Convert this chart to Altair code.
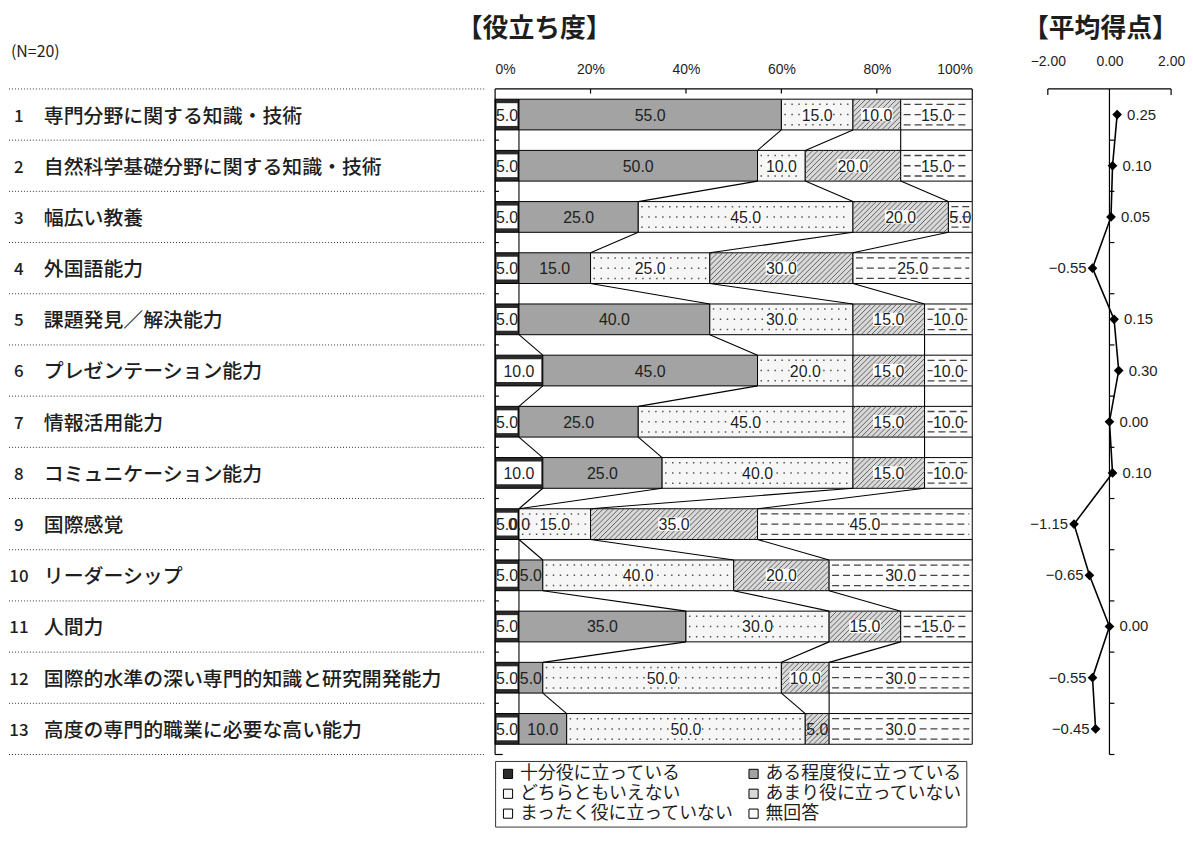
import altair as alt
import pandas as pd

# ---------------- data ----------------
items = [
    "専門分野に関する知識・技術",
    "自然科学基礎分野に関する知識・技術",
    "幅広い教養",
    "外国語能力",
    "課題発見／解決能力",
    "プレゼンテーション能力",
    "情報活用能力",
    "コミュニケーション能力",
    "国際感覚",
    "リーダーシップ",
    "人間力",
    "国際的水準の深い専門的知識と研究開発能力",
    "高度の専門的職業に必要な高い能力",
]
item_no = ["1", "2", "3", "4", "5", "6", "7", "8", "9", "10", "11", "12", "13"]
cats = ["十分役に立っている", "ある程度役に立っている", "どちらともいえない",
        "あまり役に立っていない", "まったく役に立っていない", "無回答"]
s_very = [5, 5, 5, 5, 5, 10, 5, 10, 5, 5, 5, 5, 5]
s_some = [55, 50, 25, 15, 40, 45, 25, 25, 0, 5, 35, 5, 10]
s_neutral = [15, 10, 45, 25, 30, 20, 45, 40, 15, 40, 30, 50, 50]
s_little = [10, 20, 20, 30, 15, 15, 15, 15, 35, 20, 15, 10, 5]
s_none = [15, 15, 5, 25, 10, 10, 10, 10, 45, 30, 15, 30, 30]
s_na = [0, 0, 0, 0, 0, 0, 0, 0, 0, 0, 0, 0, 0]
avg_score = [0.25, 0.10, 0.05, -0.55, 0.15, 0.30, 0.00, 0.10, -1.15, -0.65, 0.00, -0.55, -0.45]
pct_ticks = [0, 20, 40, 60, 80, 100]
avg_ticks = [-2, 0, 2]
n_label = "(N=20)"
title_bar = "【役立ち度】"
title_avg = "【平均得点】"

# ---------------- styling ----------------
fills = ["#2b2b2b", "#a3a3a3", "#f6f6f6", "#d9d9d9", "#fbfbfb", "#ffffff"]
JP = "Noto Sans CJK JP"
NUM = "Liberation Sans"
INK = "#1e1e1e"
H = 0.3            # half bar thickness (row units)
ROW_PX = 51.5
NROW = len(items)
PLOT_H = NROW * ROW_PX
BAR_W = 480
PX_PER_PCT = BAR_W / 100

yscale = alt.Scale(domain=[0.5, NROW + 0.5], reverse=True, nice=False, zero=False)

# legend shows entries column by column -> order domain so that rows read like the original
legend_order = [0, 2, 4, 1, 3, 5]
leg_domain = [cats[i] for i in legend_order]
leg_range = [fills[i] for i in legend_order]

# ---------------- tables ----------------
series = [s_very, s_some, s_neutral, s_little, s_none, s_na]
seg_rows = []
cum_rows = []
for i in range(NROW):
    cum = 0
    bounds = [0]
    for k, c in enumerate(cats):
        v = series[k][i]
        seg_rows.append(dict(r=i + 1, cat=c, k=k, start=cum, end=cum + v,
                             mid=cum + v / 2, val=v, lab=f"{v:.1f}",
                             ytop=i + 1 - H, ybot=i + 1 + H))
        cum += v
        if k < 5:
            bounds.append(cum)
    cum_rows.append(bounds)
seg = pd.DataFrame(seg_rows)
seg_bar = seg[seg["k"] < 5]
seg_bg = seg[(seg["k"] >= 2) & (seg["k"] <= 4) & (seg["val"] >= 10)]

conn = []
for i in range(NROW - 1):
    for k in range(len(cum_rows[i])):
        conn.append(dict(x=cum_rows[i][k], x2=cum_rows[i + 1][k],
                         y=i + 1 + H, y2=i + 2 - H))
conn = pd.DataFrame(conn)

# texture rows for dotted / dashed segments
dots = []
for _, s in seg[(seg["k"] == 2) & (seg["val"] > 0)].iterrows():
    for off in (-0.2, 0.0, 0.2):
        dots.append(dict(start=s["start"], end=s["end"], yy=s["r"] + off))
dots = pd.DataFrame(dots)
dashes = []
for _, s in seg[(seg["k"] == 4) & (seg["val"] > 0)].iterrows():
    for off in (-0.2, 0.0, 0.2):
        dashes.append(dict(start=s["start"], end=s["end"], yy=s["r"] + off))
dashes = pd.DataFrame(dashes)

# diagonal hatching for "あまり役に立っていない"
hatch = []
run = 2 * H * ROW_PX / PX_PER_PCT
step = 5.2 / PX_PER_PCT
for _, s in seg[(seg["k"] == 3) & (seg["val"] > 0)].iterrows():
    a, b, yt, yb = s["start"], s["end"], s["ytop"], s["ybot"]
    xb = a - run + step / 2
    while xb < b:
        x0, y0, x1, y1 = xb, yb, xb + run, yt
        if x0 < a:
            f = (a - xb) / run
            x0, y0 = a, yb - f * (yb - yt)
        if x1 > b:
            f = (b - xb) / run
            x1, y1 = b, yb - f * (yb - yt)
        if x1 - x0 > 0.05:
            hatch.append(dict(x=x0, x2=x1, y=y0, y2=y1))
        xb += step
hatch = pd.DataFrame(hatch)

# frame of the bar panel (axis bracket, left axis, small ticks)
top = 0.5
bottom = NROW + 0.5
frame_bar = [dict(x=0, x2=100, y=top, y2=top),
             dict(x=0, x2=0, y=top, y2=bottom),
             dict(x=100, x2=100, y=top, y2=top + 0.2)]
for t in pct_ticks[1:-1]:
    frame_bar.append(dict(x=t, x2=t, y=top, y2=top + 0.09))
for i in range(1, NROW + 1):
    frame_bar.append(dict(x=0, x2=0.8 if i < NROW else 1.6, y=i + 0.5, y2=i + 0.5))
frame_bar = pd.DataFrame(frame_bar)

frame_avg = [dict(x=avg_ticks[0], x2=avg_ticks[-1], y=top, y2=top),
             dict(x=avg_ticks[0], x2=avg_ticks[0], y=top, y2=top + 0.12),
             dict(x=avg_ticks[-1], x2=avg_ticks[-1], y=top, y2=top + 0.12),
             dict(x=0, x2=0, y=top, y2=bottom)]
for i in range(1, NROW + 1):
    frame_avg.append(dict(x=0, x2=0.16, y=i + 0.5, y2=i + 0.5))
frame_avg = pd.DataFrame(frame_avg)

lab_df = pd.DataFrame(dict(r=list(range(1, NROW + 1)), no=item_no, item=items))
sep_df = pd.DataFrame(dict(y=[i + 0.5 for i in range(0, NROW + 1)]))
avg_df = pd.DataFrame(dict(r=list(range(1, NROW + 1)), avg=avg_score))
n_df = pd.DataFrame(dict(t=[n_label]))

# ---------------- left panel (item labels) ----------------
LW = 482
lx = alt.Scale(domain=[0, LW], nice=False, zero=False)
left_sep = alt.Chart(sep_df).mark_rule(color="#333", strokeWidth=1, strokeDash=[1, 2]).encode(
    x=alt.datum(0, scale=lx, axis=None), x2=alt.datum(478),
    y=alt.Y("y:Q", scale=yscale, axis=None))
left_no = alt.Chart(lab_df).mark_text(font=JP, fontSize=17, align="center", baseline="middle",
                                      color=INK, dy=2, fontWeight=500).encode(
    x=alt.datum(10, scale=lx), y=alt.Y("r:Q", scale=yscale), text="no:N")
left_item = alt.Chart(lab_df).mark_text(font=JP, fontSize=20, align="left", baseline="middle",
                                        color=INK, dy=2, fontWeight=500).encode(
    x=alt.datum(35, scale=lx), y=alt.Y("r:Q", scale=yscale), text="item:N")
left_n = alt.Chart(n_df).mark_text(font=JP, fontSize=16, align="left", baseline="middle",
                                   color=INK).encode(
    x=alt.datum(2, scale=lx), y=alt.datum(-0.22, scale=yscale), text="t:N")
left = alt.layer(left_sep, left_no, left_item, left_n).properties(width=LW, height=PLOT_H)

# ---------------- middle panel (stacked bars) ----------------
xs = alt.Scale(domain=[0, 100], nice=False, zero=False)
bars = alt.Chart(seg_bar).mark_bar(stroke="black", strokeWidth=1).encode(
    x=alt.X("start:Q", scale=xs,
            axis=alt.Axis(orient="top", values=pct_ticks, labelExpr="datum.value + '%'",
                          domain=False, ticks=False, tickSize=0, grid=False, labelPadding=13,
                          labelFont=NUM, labelFontSize=14, labelColor=INK, title=None)),
    x2="end:Q",
    y=alt.Y("ytop:Q", scale=yscale, axis=None), y2="ybot:Q",
    color=alt.Color("cat:N", scale=alt.Scale(domain=leg_domain, range=leg_range),
                    legend=alt.Legend(orient="none", legendX=0, legendY=676, columns=2,
                                      title=None, symbolType="square", symbolSize=85,
                                      symbolStrokeColor="black", symbolStrokeWidth=1,
                                      symbolOpacity=1,
                                      labelFont=JP, labelFontSize=18, labelColor=INK,
                                      labelLimit=400, columnPadding=10, rowPadding=2,
                                      labelOffset=3, padding=4,
                                      strokeColor="#333", fillColor="white")))
inner = alt.Chart(seg_bar[seg_bar["k"] == 0]).mark_bar(
    fill="white", xOffset=1.5, x2Offset=-1.5, yOffset=4, y2Offset=-4).encode(
    x=alt.X("start:Q", scale=xs), x2="end:Q",
    y=alt.Y("ytop:Q", scale=yscale), y2="ybot:Q")
dot_layer = alt.Chart(dots).mark_rule(color="#555", strokeWidth=1.5, strokeDash=[1.5, 5.5],
                                      xOffset=3, x2Offset=-3).encode(
    x=alt.X("start:Q", scale=xs), x2="end:Q", y=alt.Y("yy:Q", scale=yscale))
dash_layer = alt.Chart(dashes).mark_rule(color="#444", strokeWidth=1.3, strokeDash=[7, 4],
                                         xOffset=3, x2Offset=-3).encode(
    x=alt.X("start:Q", scale=xs), x2="end:Q", y=alt.Y("yy:Q", scale=yscale))
hatch_layer = alt.Chart(hatch).mark_rule(color="#555", strokeWidth=0.9).encode(
    x=alt.X("x:Q", scale=xs), x2="x2:Q", y=alt.Y("y:Q", scale=yscale), y2="y2:Q")
label_bg = alt.Chart(seg_bg).mark_point(
    shape="M-1,-0.42L1,-0.42L1,0.42L-1,0.42Z", filled=True, color="white", opacity=1,
    size=1000, strokeWidth=0).encode(
    x=alt.X("mid:Q", scale=xs), y=alt.Y("r:Q", scale=yscale))
conn_layer = alt.Chart(conn).mark_rule(color="black", strokeWidth=1.1).encode(
    x=alt.X("x:Q", scale=xs), x2="x2:Q", y=alt.Y("y:Q", scale=yscale), y2="y2:Q")
frame_layer = alt.Chart(frame_bar).mark_rule(color="black", strokeWidth=1.2).encode(
    x=alt.X("x:Q", scale=xs), x2="x2:Q", y=alt.Y("y:Q", scale=yscale), y2="y2:Q")
val_text = alt.Chart(seg_bar).mark_text(font=NUM, fontSize=16, color=INK, align="center",
                                        baseline="middle", dy=1).encode(
    x=alt.X("mid:Q", scale=xs), y=alt.Y("r:Q", scale=yscale), text="lab:N")
middle = alt.layer(bars, inner, dot_layer, dash_layer, hatch_layer, label_bg, conn_layer,
                   frame_layer, val_text).properties(
    width=BAR_W, height=PLOT_H,
    title=alt.TitleParams(title_bar, anchor="start", dx=-38, fontSize=26, font=JP,
                          fontWeight="bold", color=INK, offset=20))

# ---------------- right panel (average score) ----------------
RW = 201
ax = alt.Scale(domain=[-4.226, 2.258], nice=False, zero=False)
frame_r = alt.Chart(frame_avg).mark_rule(color="black", strokeWidth=1.2).encode(
    x=alt.X("x:Q", scale=ax,
            axis=alt.Axis(orient="top", values=avg_ticks, format=".2f", domain=False,
                          ticks=False, tickSize=0, grid=False, labelPadding=21,
                          labelFont=NUM, labelFontSize=14, labelColor=INK, title=None)),
    x2="x2:Q", y=alt.Y("y:Q", scale=yscale, axis=None), y2="y2:Q")
line = alt.Chart(avg_df).mark_line(color="black", strokeWidth=1.6).encode(
    x=alt.X("avg:Q", scale=ax), y=alt.Y("r:Q", scale=yscale), order="r:Q")
pts = alt.Chart(avg_df).mark_point(shape="diamond", filled=True, color="black", size=95,
                                   opacity=1).encode(
    x=alt.X("avg:Q", scale=ax), y=alt.Y("r:Q", scale=yscale))
pos_lab = alt.Chart(avg_df).transform_filter("datum.avg >= 0").mark_text(
    font=NUM, fontSize=15, align="left", baseline="middle", dx=10, color=INK).encode(
    x=alt.X("avg:Q", scale=ax), y=alt.Y("r:Q", scale=yscale),
    text=alt.Text("avg:Q", format=".2f"))
neg_lab = alt.Chart(avg_df).transform_filter("datum.avg < 0").mark_text(
    font=NUM, fontSize=15, align="right", baseline="middle", dx=-6, color=INK).encode(
    x=alt.X("avg:Q", scale=ax), y=alt.Y("r:Q", scale=yscale),
    text=alt.Text("avg:Q", format=".2f"))
right = alt.layer(frame_r, line, pts, pos_lab, neg_lab).properties(
    width=RW, height=PLOT_H,
    title=alt.TitleParams(title_avg, anchor="start", dx=44, fontSize=26, font=JP,
                          fontWeight="bold", color=INK, offset=12))

chart = alt.hconcat(left, middle, right, spacing=7, bounds="flush").resolve_scale(
    color="independent").configure_view(stroke=None).properties(
    padding={"left": 0, "top": 6, "right": 0, "bottom": 0}, background="white")

chart.save("out.html", embed_options={"renderer": "svg", "actions": False})
